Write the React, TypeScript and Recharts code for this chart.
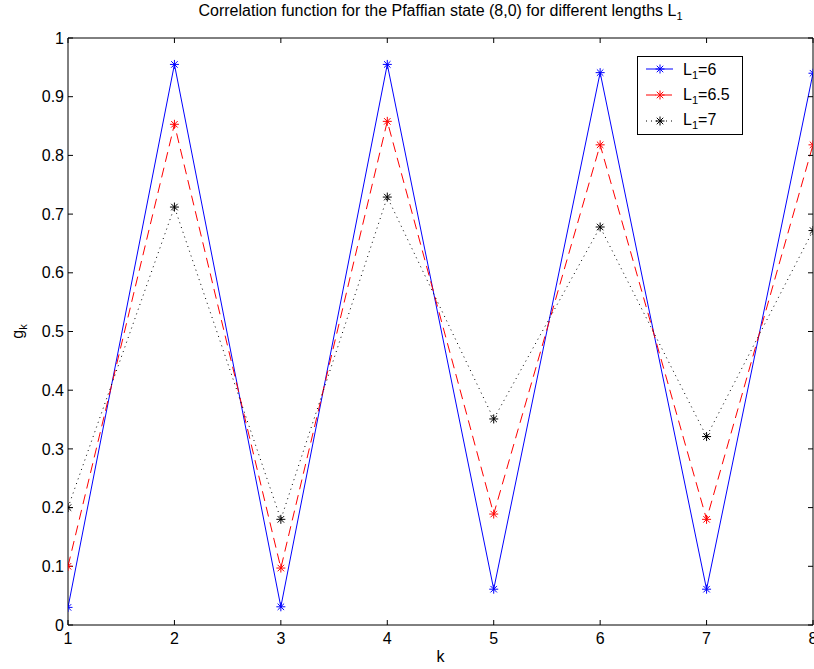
import React from 'react';
import { LineChart, Line, XAxis, YAxis } from 'recharts';

const kValues = [1, 2, 3, 4, 5, 6, 7, 8];
const seriesL6 = [0.03, 0.955, 0.031, 0.955, 0.061, 0.941, 0.061, 0.94];
const seriesL65 = [0.1, 0.853, 0.097, 0.858, 0.189, 0.818, 0.18, 0.818];
const seriesL7 = [0.2, 0.712, 0.18, 0.729, 0.351, 0.678, 0.321, 0.672];
const xTicks = [1, 2, 3, 4, 5, 6, 7, 8];
const yTicks = [0, 0.1, 0.2, 0.3, 0.4, 0.5, 0.6, 0.7, 0.8, 0.9, 1];
const yTickLabels = ['0', '0.1', '0.2', '0.3', '0.4', '0.5', '0.6', '0.7', '0.8', '0.9', '1'];

const legendItems = [
  { key: 'l6', label: '6', color: '#0000ff', dash: undefined as string | undefined },
  { key: 'l65', label: '6.5', color: '#ff0000', dash: '10 6' },
  { key: 'l7', label: '7', color: '#000000', dash: '1 4' },
];

const data = kValues.map((k, i) => ({ k, l6: seriesL6[i], l65: seriesL65[i], l7: seriesL7[i] }));

const FONT = '"Liberation Sans", Arial, Helvetica, sans-serif';

const Asterisk = ({ cx, cy, color, r = 4.5 }: { cx: number; cy: number; color: string; r?: number }) => {
  const d = r * 0.72;
  return (
    <g stroke={color} strokeWidth={1} fill="none">
      <line x1={cx - r} y1={cy} x2={cx + r} y2={cy} />
      <line x1={cx} y1={cy - r} x2={cx} y2={cy + r} />
      <line x1={cx - d} y1={cy - d} x2={cx + d} y2={cy + d} />
      <line x1={cx - d} y1={cy + d} x2={cx + d} y2={cy - d} />
    </g>
  );
};

const makeDot = (color: string) => (props: any) => {
  const { cx, cy, index } = props;
  if (cx == null || cy == null) return <g key={`e-${index}`} />;
  return (
    <g key={`d-${color}-${index}`}>
      <Asterisk cx={cx} cy={cy} color={color} />
    </g>
  );
};

const XLabel = (props: any) => {
  const vb = props.viewBox || { x: 68, y: 625, width: 745, height: 44 };
  return (
    <text x={vb.x + vb.width / 2} y={vb.y + 37} textAnchor="middle" fontSize={16} fontFamily={FONT} fill="#000">
      k
    </text>
  );
};

const YLabel = (props: any) => {
  const vb = props.viewBox || { x: 0, y: 38, width: 68, height: 587 };
  const cx = vb.x + 23;
  const cy = vb.y + vb.height / 2;
  return (
    <text
      x={cx}
      y={cy}
      transform={`rotate(-90 ${cx} ${cy})`}
      textAnchor="middle"
      fontSize={16}
      fontFamily={FONT}
      fill="#000"
    >
      g<tspan dy={4} fontSize={11}>k</tspan>
    </text>
  );
};

const LegendBox = () => (
  <svg width={106} height={79} style={{ display: 'block' }}>
    <rect x={0.5} y={0.5} width={105} height={78} fill="#fff" stroke="#000" strokeWidth={1} />
    {legendItems.map((it, i) => {
      const cy = 13 + i * 26;
      const by = 19 + i * 25;
      return (
        <g key={it.key}>
          <line x1={9} y1={cy} x2={36} y2={cy} stroke={it.color} strokeWidth={1} strokeDasharray={it.dash} />
          <Asterisk cx={23} cy={cy} color={it.color} />
          <text x={46} y={by} fontSize={16} fontFamily={FONT} fill="#000">
            L<tspan dy={4} fontSize={11}>1</tspan>
            <tspan dy={-4}>={it.label}</tspan>
          </text>
        </g>
      );
    })}
  </svg>
);

const axisTickStyle = { fill: '#000', fontSize: 16, fontFamily: FONT };

export default function App() {
  return (
    <div style={{ position: 'absolute', left: 0, top: 0, width: 814, height: 669, background: '#fff' }}>
      <LineChart width={814} height={669} data={data} margin={{ top: 37, right: 0, left: 0, bottom: 0 }}>
        <XAxis
          dataKey="k"
          type="number"
          domain={[1, 8]}
          ticks={xTicks}
          interval={0}
          allowDataOverflow
          height={44}
          tickSize={-5}
          tickMargin={13}
          stroke="#000"
          tick={axisTickStyle}
          label={{ content: XLabel }}
        />
        <XAxis
          xAxisId="top"
          orientation="top"
          dataKey="k"
          type="number"
          domain={[1, 8]}
          ticks={xTicks}
          interval={0}
          allowDataOverflow
          height={1}
          tickSize={-5}
          tickFormatter={() => ''}
          stroke="#000"
        />
        <YAxis
          type="number"
          domain={[0, 1]}
          ticks={yTicks}
          interval={0}
          allowDataOverflow
          width={68}
          tickSize={-5}
          tickMargin={9}
          stroke="#000"
          tick={axisTickStyle}
          tickFormatter={(v: number) => yTickLabels[yTicks.indexOf(v)] ?? String(v)}
          label={{ content: YLabel }}
        />
        <YAxis
          yAxisId="right"
          orientation="right"
          type="number"
          domain={[0, 1]}
          ticks={yTicks}
          interval={0}
          allowDataOverflow
          width={1}
          tickSize={-5}
          tickFormatter={() => ''}
          stroke="#000"
        />
        <Line
          xAxisId="top"
          yAxisId="right"
          type="linear"
          dataKey="l6"
          stroke="none"
          strokeOpacity={0}
          dot={false}
          activeDot={false}
          legendType="none"
          isAnimationActive={false}
        />
        <Line
          type="linear"
          dataKey="l6"
          stroke="#0000ff"
          strokeWidth={1}
          dot={makeDot('#0000ff')}
          activeDot={false}
          isAnimationActive={false}
        />
        <Line
          type="linear"
          dataKey="l65"
          stroke="#ff0000"
          strokeWidth={1}
          strokeDasharray="10 6"
          dot={makeDot('#ff0000')}
          activeDot={false}
          isAnimationActive={false}
        />
        <Line
          type="linear"
          dataKey="l7"
          stroke="#000000"
          strokeWidth={1}
          strokeDasharray="1 4"
          dot={makeDot('#000000')}
          activeDot={false}
          isAnimationActive={false}
        />
      </LineChart>
      <svg width={814} height={30} style={{ position: 'absolute', left: 0, top: 0, pointerEvents: 'none' }}>
        <text x={440.5} y={16} textAnchor="middle" fontSize={16} fontFamily={FONT} fill="#000">
          Correlation function for the Pfaffian state (8,0) for different lengths L
          <tspan dy={4} fontSize={11}>1</tspan>
        </text>
      </svg>
      <div style={{ position: 'absolute', left: 637, top: 56 }}>
        <LegendBox />
      </div>
    </div>
  );
}
